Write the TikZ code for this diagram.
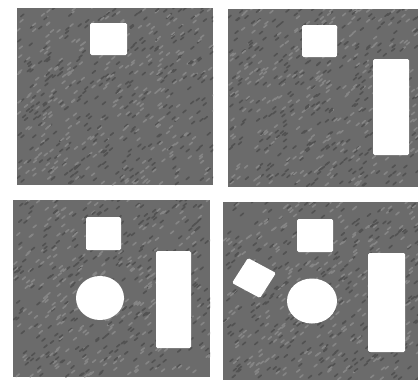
\documentclass[tikz,border=0pt]{standalone}
\begin{document}
\begin{tikzpicture}[x=1pt,y=-1pt,
    panel/.style={fill=black!58},
    hole/.style={fill=white,rounded corners=1.5pt},
    grain/.style={line width=1.6pt,line cap=round}]
  \useasboundingbox (0,0) rectangle (418,380);
  \pgfmathsetseed{7}
  % four textured panels
  \foreach \xa/\ya/\xb/\yb in {17/8/213/185, 228/9/418/187, 13/200/210/377, 223/202/418/380}{
    \fill[panel] (\xa,\ya) rectangle (\xb,\yb);
    \begin{scope}
      \clip (\xa,\ya) rectangle (\xb,\yb);
      \foreach \i in {1,...,600}{
        \pgfmathsetmacro{\px}{\xa+rnd*(\xb-\xa)}
        \pgfmathsetmacro{\py}{\ya+rnd*(\yb-\ya)}
        \pgfmathtruncatemacro{\sh}{rnd>0.5 ? 48 : 68}
        \draw[grain,black!\sh] (\px,\py) -- ++(3,-2.5);
      }
    \end{scope}
  }
  % panel 1
  \fill[hole] (90,23) rectangle (127,55);
  % panel 2
  \fill[hole] (302,25) rectangle (337,57);
  \fill[hole] (373,59) rectangle (409,155);
  % panel 3
  \fill[hole] (86,217) rectangle (121,250);
  \fill[hole] (100,298) ellipse [x radius=24, y radius=22];
  \fill[hole] (156,251) rectangle (191,348);
  % panel 4
  \fill[hole] (297,219) rectangle (333,252);
  \fill[hole] (312,301) ellipse [x radius=25, y radius=22.5];
  \fill[hole] (368,253) rectangle (405,352);
  \fill[hole] (248,258) -- (276,273) -- (260,298) -- (232,283) -- cycle;
\end{tikzpicture}
\end{document}
